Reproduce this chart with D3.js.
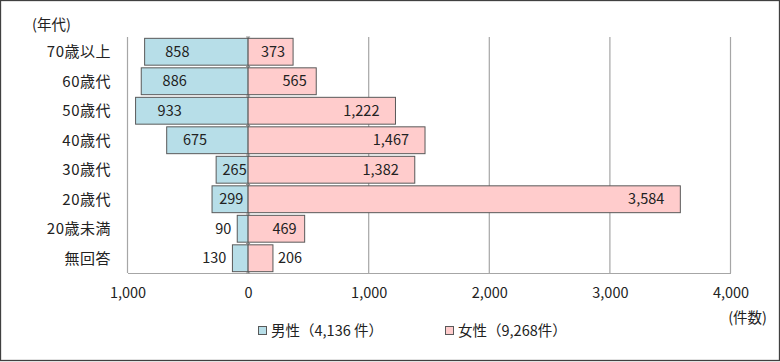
<!DOCTYPE html>
<html>
<head>
<meta charset="utf-8">
<script src="https://cdn.jsdelivr.net/npm/d3@7"></script>
<style>
  body { margin: 0; background: #fff; }
  svg text { font-family: "Noto Sans CJK JP", "Noto Sans", sans-serif; fill: #222; }
</style>
</head>
<body>
<div id="main"></div>
<script>
// 年代別 件数
const categories = ["70歳以上", "60歳代", "50歳代", "40歳代", "30歳代", "20歳代", "20歳未満", "無回答"];
const male = [858, 886, 933, 675, 265, 299, 90, 130];
const female = [373, 565, 1222, 1467, 1382, 3584, 469, 206];
const tickValues = [-1000, 0, 1000, 2000, 3000, 4000];
const legendLabels = ["男性（4,136 件）", "女性（9,268件）"];

const w = 780, h = 362;
const colors = ["#b7dee8", "#ffcccc"];
const fmt = d3.format(",");

const svg = d3.select("#main").append("svg").attr("width", w).attr("height", h);

// outer frame
svg.append("rect")
    .attr("x", 0.5).attr("y", 0.5)
    .attr("width", w - 1).attr("height", h - 2)
    .attr("fill", "#fff")
    .attr("stroke", "#404040")
    .attr("stroke-width", 1.3);

const plotTop = 37, plotBottom = 273;

const xScale = d3.scaleLinear().domain([-1000, 4000]).range([127.5, 730.5]);
const yScale = d3.scaleBand().domain(categories).range([plotTop, plotBottom])
    .paddingInner(0.09).paddingOuter(0.045);

// gridlines
svg.append("g").selectAll("line")
    .data(tickValues)
    .enter().append("line")
    .attr("x1", d => xScale(d)).attr("x2", d => xScale(d))
    .attr("y1", plotTop).attr("y2", plotBottom)
    .attr("stroke", "#a6a6a6").attr("stroke-width", 1.2);

// bottom axis
const xAxis = d3.axisBottom(xScale).tickValues(tickValues)
    .tickSize(0).tickPadding(15)
    .tickFormat(d => fmt(Math.abs(d)));

const gx = svg.append("g")
    .attr("transform", "translate(0," + plotBottom + ")")
    .call(xAxis);
gx.select(".domain").attr("stroke", "#a6a6a6").attr("stroke-width", 1.2);
gx.selectAll("text").style("font-size", "14.5px").attr("fill", "#222");

// category axis at zero
const yAxis = d3.axisLeft(yScale).tickSize(0).tickFormat("");
const gy = svg.append("g")
    .attr("transform", "translate(" + xScale(0) + ",0)")
    .call(yAxis);
gy.select(".domain").attr("stroke", "#8c8c8c");
// small ticks at band boundaries
gy.selectAll(".bnd")
    .data(d3.range(categories.length + 1))
    .enter().append("line")
    .attr("x1", -2).attr("x2", 2)
    .attr("y1", i => plotTop + i * (plotBottom - plotTop) / categories.length)
    .attr("y2", i => plotTop + i * (plotBottom - plotTop) / categories.length)
    .attr("stroke", "#8c8c8c");

// category labels
svg.append("g").selectAll("text")
    .data(categories)
    .enter().append("text")
    .attr("x", 111)
    .attr("y", d => yScale(d) + yScale.bandwidth() / 2)
    .attr("dy", "0.35em")
    .attr("text-anchor", "end")
    .style("font-size", "15px")
    .style("letter-spacing", "0.5px")
    .text(d => d);

// bars
svg.append("g").selectAll("rect")
    .data(male)
    .enter().append("rect")
    .attr("x", d => xScale(-d))
    .attr("y", (d, i) => yScale(categories[i]))
    .attr("width", d => xScale(0) - xScale(-d))
    .attr("height", yScale.bandwidth())
    .attr("fill", colors[0])
    .attr("stroke", "#595959").attr("stroke-width", 1);

svg.append("g").selectAll("rect")
    .data(female)
    .enter().append("rect")
    .attr("x", xScale(0))
    .attr("y", (d, i) => yScale(categories[i]))
    .attr("width", d => xScale(d) - xScale(0))
    .attr("height", yScale.bandwidth())
    .attr("fill", colors[1])
    .attr("stroke", "#595959").attr("stroke-width", 1);

// value labels
svg.append("g").selectAll("text")
    .data(male)
    .enter().append("text")
    .attr("x", d => {
        const end = xScale(-d), bw = xScale(0) - end;
        if (bw < 30) return end - 6;
        return end + Math.min(22, bw * 0.2);
    })
    .attr("text-anchor", d => (xScale(0) - xScale(-d)) < 30 ? "end" : "start")
    .attr("y", (d, i) => yScale(categories[i]) + yScale.bandwidth() / 2)
    .attr("dy", "0.35em")
    .style("font-size", "14.5px")
    .text(d => fmt(d));

svg.append("g").selectAll("text")
    .data(female)
    .enter().append("text")
    .attr("x", d => {
        const end = xScale(d), bw = end - xScale(0);
        if (bw < 30) return end + 5;
        return end - Math.min(16, Math.max(8, bw * 0.14));
    })
    .attr("text-anchor", d => (xScale(d) - xScale(0)) < 30 ? "start" : "end")
    .attr("y", (d, i) => yScale(categories[i]) + yScale.bandwidth() / 2)
    .attr("dy", "0.35em")
    .style("font-size", "14.5px")
    .text(d => fmt(d));

// axis titles
svg.append("text")
    .attr("x", 32).attr("y", 25)
    .attr("dy", "0.35em")
    .style("font-size", "14.5px")
    .text("(年代)");

svg.append("text")
    .attr("x", 767).attr("y", 318)
    .attr("dy", "0.35em")
    .attr("text-anchor", "end")
    .style("font-size", "14.5px")
    .text("(件数)");

// legend
const legendX = [258, 445];
const legend = svg.append("g").selectAll("g")
    .data(legendLabels)
    .enter().append("g")
    .attr("transform", (d, i) => "translate(" + legendX[i] + ",331)");
legend.append("rect")
    .attr("x", 0.5).attr("y", -4.5)
    .attr("width", 8).attr("height", 8)
    .attr("fill", (d, i) => colors[i])
    .attr("stroke", "#595959");
legend.append("text")
    .attr("x", 13).attr("dy", "0.35em")
    .style("font-size", "14.5px")
    .text(d => d);
</script>
</body>
</html>
